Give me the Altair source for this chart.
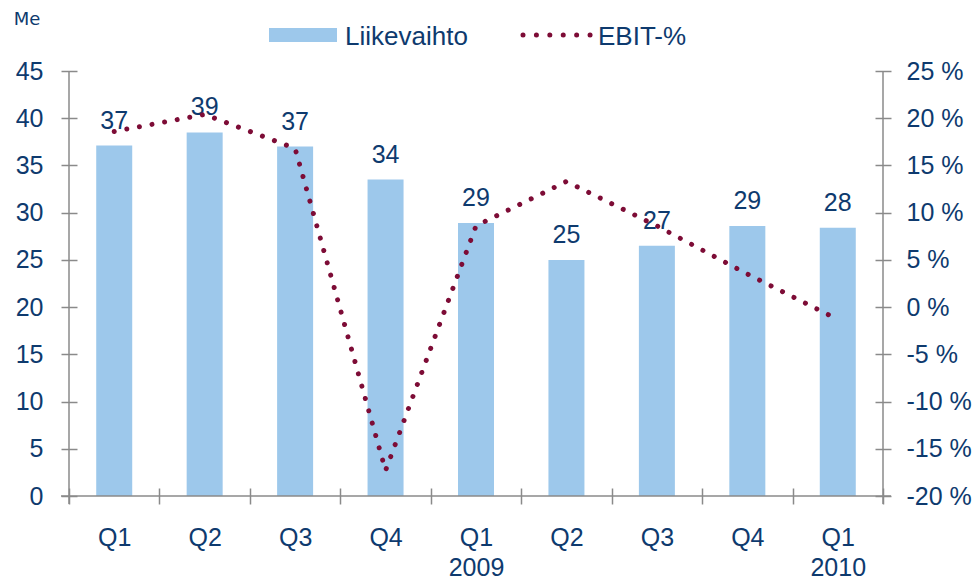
import altair as alt
import pandas as pd
import json

# ---- data ----
quarter_labels = ["Q1", "Q2", "Q3", "Q4", "Q1\n2009", "Q2", "Q3", "Q4", "Q1\n2010"]
revenue = [37.1, 38.5, 37.0, 33.5, 28.9, 25.0, 26.5, 28.6, 28.4]
revenue_text = ["37", "39", "37", "34", "29", "25", "27", "29", "28"]
ebit_pct = [18.6, 20.4, 16.8, -17.3, 8.6, 13.3, 8.6, 3.5, -1.3]

left_ticks = [0, 5, 10, 15, 20, 25, 30, 35, 40, 45]
right_ticks = [-20, -15, -10, -5, 0, 5, 10, 15, 20, 25]

legend_names = ["Liikevaihto", "EBIT-%"]
unit_label = "Me"

# ---- styling ----
BAR = "#9DC8EB"
LINE = "#7D0C36"
TXT = "#0E3A6E"
AX = "#8A8A8A"
FONT = "Liberation Sans"
W, H = 814, 425

df = pd.DataFrame({
    "idx": list(range(len(quarter_labels))),
    "revenue": revenue,
    "rtext": revenue_text,
    "ebit": ebit_pct,
})

label_array = "[" + ",".join(json.dumps(q.split("\n")) for q in quarter_labels) + "]"

x_enc = alt.X(
    "idx:O",
    scale=alt.Scale(paddingInner=0, paddingOuter=0),
    axis=alt.Axis(
        title=None, labelAngle=0, labelExpr=label_array + "[datum.value]",
        offset=-8, tickSize=16, tickBand="extent", domain=False,
        labelPadding=21, labelFontSize=25, labelLineHeight=30,
        labelColor=TXT, labelFont=FONT, tickColor=AX, tickWidth=1.5,
    ),
)

bars = alt.Chart(df).mark_bar(size=36, color=BAR).encode(
    x=x_enc,
    y=alt.Y(
        "revenue:Q",
        scale=alt.Scale(domain=[0, 45], nice=False, zero=True),
        axis=alt.Axis(
            title=None, values=left_ticks, offset=-8, tickSize=16, domain=False,
            grid=False, labelPadding=18, labelFontSize=25, labelColor=TXT,
            labelFont=FONT, tickColor=AX, tickWidth=1.5,
        ),
    ),
)

labels = alt.Chart(df).mark_text(
    dy=-17, baseline="alphabetic", fontSize=25, font=FONT, color=TXT
).encode(
    x=alt.X("idx:O"),
    y=alt.Y("revenue:Q", scale=alt.Scale(domain=[0, 45], nice=False), axis=None),
    text="rtext:N",
)

line = alt.Chart(df).mark_line(
    color=LINE, strokeWidth=5, strokeDash=[0.01, 12.8], strokeCap="round"
).encode(
    x=alt.X("idx:O"),
    y=alt.Y(
        "ebit:Q",
        scale=alt.Scale(domain=[-20, 25], nice=False, zero=False),
        axis=alt.Axis(
            title=None, orient="right", values=right_ticks,
            labelExpr="datum.value + ' %'", offset=-8, tickSize=16,
            domain=False, grid=False, labelPadding=15, labelFontSize=25,
            labelColor=TXT, labelFont=FONT, tickColor=AX, tickWidth=1.5,
        ),
    ),
)

one = pd.DataFrame({"k": [0]})
base1 = alt.Chart(one)

x_domain = base1.mark_rule(color=AX, strokeWidth=1.5).encode(
    x=alt.value(-8), x2=alt.value(W + 8), y=alt.value(H)
)
left_domain = base1.mark_rule(color=AX, strokeWidth=1.5).encode(
    x=alt.value(0), y=alt.value(0), y2=alt.value(H + 8)
)
right_domain = base1.mark_rule(color=AX, strokeWidth=1.5).encode(
    x=alt.value(W), y=alt.value(0), y2=alt.value(H + 8)
)

leg_rect = base1.mark_rect(color=BAR).encode(
    x=alt.value(200), x2=alt.value(268), y=alt.value(-43), y2=alt.value(-29)
)
leg_text1 = base1.mark_text(
    align="left", baseline="middle", fontSize=26, font=FONT, color=TXT,
    text=legend_names[0],
).encode(x=alt.value(276), y=alt.value(-34))
leg_line = base1.mark_rule(
    color=LINE, strokeWidth=5, strokeDash=[0.01, 13.4], strokeCap="round"
).encode(x=alt.value(454), x2=alt.value(522), y=alt.value(-36))
leg_text2 = base1.mark_text(
    align="left", baseline="middle", fontSize=26, font=FONT, color=TXT,
    text=legend_names[1],
).encode(x=alt.value(529), y=alt.value(-34))
me_text = base1.mark_text(
    align="center", baseline="middle", fontSize=18, font="DejaVu Sans", color=TXT,
    text=unit_label,
).encode(x=alt.value(-42), y=alt.value(-51))

chart = alt.layer(
    bars, labels, line, x_domain, left_domain, right_domain,
    leg_rect, leg_text1, leg_line, leg_text2, me_text,
).resolve_scale(y="independent").properties(
    width=W, height=H,
    autosize=alt.AutoSizeParams(type="none"),
    padding={"left": 61, "top": 63, "right": 89, "bottom": 88},
    background="white",
).configure_view(stroke=None)

chart.save("out.html", embed_options={"renderer": "svg", "actions": False})
